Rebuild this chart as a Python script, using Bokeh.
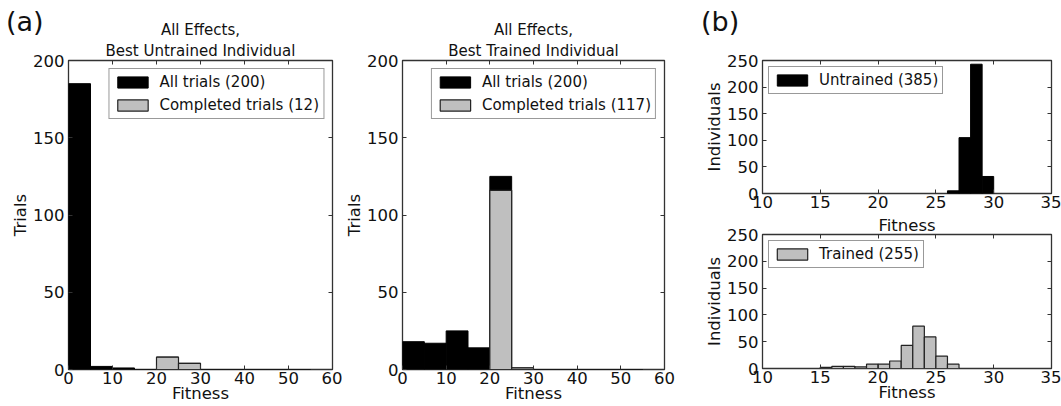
from bokeh.plotting import figure
from bokeh.models import LinearAxis, Legend, LegendItem, Title, Range1d, Div
from bokeh.layouts import row, column
from bokeh.embed import file_html
from bokeh.resources import INLINE

FONT = "DejaVu Sans"

# ---------------- data ----------------
trial_edges = [0, 5, 10, 15, 20, 25, 30, 35, 40, 45, 50, 55]
untrained_all_trials = [185, 2, 1, 0, 8, 4, 0, 0, 0, 0, 0]
untrained_completed = [0, 0, 0, 0, 8, 4, 0, 0, 0, 0, 0]
trained_all_trials = [18, 17, 25, 14, 125, 1, 0, 0, 0, 0, 0]
trained_completed = [0, 0, 0, 0, 116, 1, 0, 0, 0, 0, 0]

untrained_fit_edges = [26, 27, 28, 29, 30]
untrained_fit_counts = [5, 105, 243, 32]
trained_fit_edges = [15, 16, 17, 18, 19, 20, 21, 22, 23, 24, 25, 26, 27]
trained_fit_counts = [2, 4, 4, 3, 8, 8, 14, 43, 79, 59, 23, 8]

trial_xticks = [0, 10, 20, 30, 40, 50, 60]
trial_yticks = [0, 50, 100, 150, 200]
fit_xticks = [10, 15, 20, 25, 30, 35]
fit_yticks = [0, 50, 100, 150, 200, 250]

BLACK = "#000000"
GRAY = "#bfbfbf"
EDGE = "#222222"
FRAME = "#333333"
TICK_FS = "16.5px"
LAB_FS = "16.5px"
LEG_FS = "15px"


def style(p, xticks, yticks, xlabel, ylabel):
    p.outline_line_color = FRAME
    p.outline_line_width = 1.3
    p.xgrid.visible = False
    p.ygrid.visible = False
    p.background_fill_color = "white"
    p.border_fill_color = "white"
    for ax in (p.xaxis[0], p.yaxis[0]):
        ax.axis_line_color = None
        ax.major_tick_in = 4
        ax.major_tick_out = 0
        ax.minor_tick_line_color = None
        ax.major_tick_line_color = FRAME
        ax.major_label_text_font = FONT
        ax.major_label_text_font_size = TICK_FS
        ax.major_label_text_color = "#111111"
        ax.axis_label_text_font = FONT
        ax.axis_label_text_font_size = LAB_FS
        ax.axis_label_text_font_style = "normal"
        ax.axis_label_text_color = "#111111"
    p.xaxis[0].ticker = xticks
    p.yaxis[0].ticker = yticks
    p.xaxis[0].major_label_standoff = 2
    p.yaxis[0].major_label_standoff = 4
    p.xaxis[0].axis_label = xlabel
    p.yaxis[0].axis_label = ylabel
    p.xaxis[0].axis_label_standoff = -3
    p.yaxis[0].axis_label_standoff = 0
    # mirrored inward ticks on top and right (no labels)
    common = dict(axis_line_color=None, major_tick_in=4, major_tick_out=0,
                  minor_tick_line_color=None, major_tick_line_color=FRAME,
                  major_label_text_font_size="1px", major_label_text_color=None,
                  major_label_standoff=0)
    p.add_layout(LinearAxis(ticker=xticks, **common), "above")
    p.add_layout(LinearAxis(ticker=yticks, **common), "right")


def make_legend(p, items, location, margin):
    leg = Legend(items=items, location=location, margin=margin, padding=4,
                 spacing=5, label_height=17, glyph_height=14, glyph_width=38,
                 label_standoff=8, label_text_font=FONT, label_text_font_size=LEG_FS,
                 label_text_color="#111111", border_line_color=FRAME,
                 border_line_width=1.3, background_fill_color="white",
                 background_fill_alpha=1.0)
    p.add_layout(leg, "center")


def panel_tag(text, left, top):
    return Div(text=text, width=50, height=34, margin=0,
               styles={"position": "absolute", "left": "%dpx" % left, "top": "%dpx" % top,
                       "z-index": "10", "font-family": FONT, "font-size": "27px",
                       "line-height": "1", "color": "#111111"})


def trial_panel(title2, all_counts, comp_counts, comp_total, width, bl, br):
    p = figure(width=width, height=406, x_range=Range1d(0, 60), y_range=Range1d(0, 200),
               output_backend="svg", toolbar_location=None,
               min_border_left=bl, min_border_right=br, min_border_top=60, min_border_bottom=37)
    style(p, trial_xticks, trial_yticks, "Fitness", "Trials")
    r_all = p.quad(left=trial_edges[:-1], right=trial_edges[1:], bottom=0, top=all_counts,
                   fill_color=BLACK, line_color=BLACK, line_width=1)
    r_comp = p.quad(left=trial_edges[:-1], right=trial_edges[1:], bottom=0, top=comp_counts,
                    fill_color=GRAY, line_color=EDGE, line_width=1.2)
    make_legend(p, [LegendItem(label="All trials (%d)" % sum(all_counts), renderers=[r_all]),
                    LegendItem(label="Completed trials (%d)" % comp_total, renderers=[r_comp])],
                "top_right", 8)
    p.add_layout(Title(text=title2, align="center", text_font=FONT, text_font_size="15px",
                       text_font_style="normal", text_color="#111111", standoff=2), "above")
    p.add_layout(Title(text="All Effects,", align="center", text_font=FONT, text_font_size="15px",
                       text_font_style="normal", text_color="#111111", standoff=0), "above")
    return p


p1 = trial_panel("Best Untrained Individual", untrained_all_trials, untrained_completed,
                 sum(untrained_completed), 342, 68, 10)
p2 = trial_panel("Best Trained Individual", trained_all_trials, trained_completed,
                 117, 338, 57, 16)

# ---------------- panel (b) ----------------
p3 = figure(width=381, height=212, x_range=Range1d(10, 35), y_range=Range1d(0, 250),
            output_backend="svg", toolbar_location=None,
            min_border_left=82, min_border_right=10, min_border_top=60, min_border_bottom=19)
style(p3, fit_xticks, fit_yticks, None, "Individuals")
r3 = p3.quad(left=untrained_fit_edges[:-1], right=untrained_fit_edges[1:], bottom=0,
             top=untrained_fit_counts, fill_color=BLACK, line_color=BLACK)
make_legend(p3, [LegendItem(label="Untrained (%d)" % sum(untrained_fit_counts), renderers=[r3])],
            "top_left", 6)

p4 = figure(width=381, height=194, x_range=Range1d(10, 35), y_range=Range1d(0, 250),
            output_backend="svg", toolbar_location=None,
            min_border_left=82, min_border_right=10, min_border_top=22, min_border_bottom=38)
style(p4, fit_xticks, fit_yticks, "Fitness", "Individuals")
r4 = p4.quad(left=trained_fit_edges[:-1], right=trained_fit_edges[1:], bottom=0,
             top=trained_fit_counts, fill_color=GRAY, line_color=EDGE, line_width=1.2)
make_legend(p4, [LegendItem(label="Trained (%d)" % sum(trained_fit_counts), renderers=[r4])],
            "top_left", 6)
# x-axis label of the upper (b) panel, placed in the gap between the two panels
p4.add_layout(Title(text="Fitness", align="center", text_font=FONT, text_font_size=LAB_FS,
                    text_font_style="normal", text_color="#111111", standoff=0), "above")

tag_a = panel_tag("(a)", 6, 8)
tag_b = panel_tag("(b)", 701, 8)

layout = row(p1, p2, column(p3, p4, spacing=0), tag_a, tag_b, spacing=0)

html = file_html(layout, INLINE, "Fitness histograms")
open("out.html", "w").write(html)
